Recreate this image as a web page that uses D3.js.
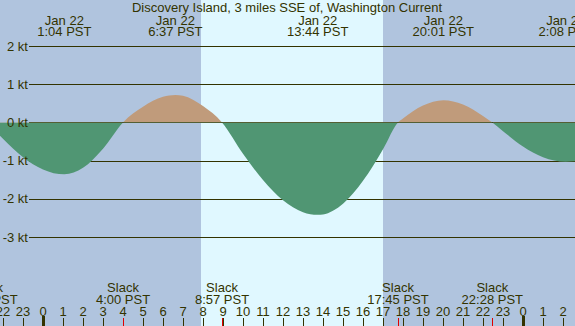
<!DOCTYPE html>
<html>
<head>
<meta charset="utf-8">
<script src="https://cdn.jsdelivr.net/npm/d3@7"></script>
<style>
  body { margin: 0; background: #fff; }
  svg { display: block; font-family: "Liberation Sans", Arial, sans-serif; }
</style>
</head>
<body>
<div class="displayArea"></div>
<script>
// current, hours from Jan 22 00:00 PST (events + hourly readings)
const curveHours = [-2.8, -2, -1, 0, 1.067, 2, 3, 4.0, 5, 6, 6.617, 7, 8, 8.95, 10, 11, 12, 13,
                    13.733, 14, 15, 16, 17, 17.75, 18, 19, 20.017, 21, 22, 22.467, 23, 24, 25, 26.133, 27];
const curveKnots = [0, -0.43, -0.91, -1.23, -1.36, -1.19, -0.69, 0, 0.41, 0.67, 0.72, 0.70, 0.43, 0, -0.82, -1.51, -2.04, -2.35,
                    -2.42, -2.41, -2.13, -1.53, -0.70, 0, 0.10, 0.44, 0.58, 0.47, 0.17, 0, -0.23, -0.63, -0.91, -1.03, -1.0];

// labelled maxima on top, slacks on bottom
const maxHours = [1.067, 6.617, 13.733, 20.017, 26.133];
const maxLabels = ["1:04 PST", "6:37 PST", "13:44 PST", "20:01 PST", "2:08 PST"];
const slackHours = [-2.8, 4.0, 8.95, 17.75, 22.467];
const slackLabels = ["21:12 PST", "4:00 PST", "8:57 PST", "17:45 PST", "22:28 PST"];

const sunrise = 7.9, sunset = 17.0;
const knotTicks = [-3, -2, -1, 0, 1, 2];
const hourTicks = d3.range(-2, 27);

const width = 575, height = 326;
const nightCol = "#b0c4de", dayCol = "#e0f8ff",
      ebbCol = "#509673", floodCol = "#c09b7b", ink = "#333300";
const fs = 13;

var xScale = d3.scaleLinear().domain([-2.15, 26.6]).range([0, width]),
    yScale = d3.scaleLinear().domain([-3, 2]).range([237, 46]);

var svg = d3.select(".displayArea").append("svg")
    .attr("width", width)
    .attr("height", height);

// night / day background
svg.append("rect").attr("width", width).attr("height", height).attr("fill", nightCol);
svg.append("rect")
    .attr("x", xScale(sunrise)).attr("y", 0)
    .attr("width", xScale(sunset) - xScale(sunrise)).attr("height", height)
    .attr("fill", dayCol);

// knot grid lines
svg.append("g").selectAll("line")
    .data(knotTicks).enter().append("line")
    .attr("x1", 29).attr("x2", width)
    .attr("y1", d => Math.round(yScale(d)) + 0.5)
    .attr("y2", d => Math.round(yScale(d)) + 0.5)
    .attr("stroke", ink).attr("stroke-width", 1.2);

// current curve split at zero
var y0 = yScale(0);
var defs = svg.append("defs");
defs.append("clipPath").attr("id", "above")
    .append("rect").attr("x", 0).attr("y", 0).attr("width", width).attr("height", y0);
defs.append("clipPath").attr("id", "below")
    .append("rect").attr("x", 0).attr("y", y0).attr("width", width).attr("height", height - y0);

var pts = curveHours.map((h, i) => [h, curveKnots[i]]);
var area = d3.area()
    .x(d => xScale(d[0]))
    .y0(y0)
    .y1(d => yScale(d[1]))
    .curve(d3.curveMonotoneX);

svg.append("path").datum(pts).attr("d", area)
    .attr("fill", floodCol).attr("clip-path", "url(#above)");
svg.append("path").datum(pts).attr("d", area)
    .attr("fill", ebbCol).attr("clip-path", "url(#below)");

// knot labels
svg.append("g").selectAll("text")
    .data(knotTicks).enter().append("text")
    .attr("x", 28).attr("y", d => yScale(d) + 4.5)
    .attr("text-anchor", "end")
    .attr("font-size", fs).attr("fill", ink)
    .text(d => d + " kt");

// title
svg.append("text")
    .attr("x", 287).attr("y", 12)
    .attr("text-anchor", "middle").attr("font-size", fs).attr("fill", ink)
    .text("Discovery Island, 3 miles SSE of, Washington Current");

// max labels on top
var maxG = svg.append("g").selectAll("g")
    .data(maxHours).enter().append("g")
    .attr("transform", d => `translate(${xScale(d)},0)`);
maxG.append("text").attr("y", 24.5).attr("text-anchor", "middle")
    .attr("font-size", fs).attr("fill", ink).text("Jan 22");
maxG.append("text").attr("y", 36).attr("text-anchor", "middle")
    .attr("font-size", fs).attr("fill", ink).text((d, i) => maxLabels[i]);

// slack labels on bottom
var slackG = svg.append("g").selectAll("g")
    .data(slackHours).enter().append("g")
    .attr("transform", d => `translate(${xScale(d)},0)`);
slackG.append("text").attr("y", 291.5).attr("text-anchor", "middle")
    .attr("font-size", fs).attr("fill", ink).text("Slack");
slackG.append("text").attr("y", 303.5).attr("text-anchor", "middle")
    .attr("font-size", fs).attr("fill", ink).text((d, i) => slackLabels[i]);

// hour axis
var hourOf = d => ((d % 24) + 24) % 24;
var xAxis = svg.append("g");
xAxis.selectAll("text")
    .data(hourTicks).enter().append("text")
    .attr("x", d => xScale(d)).attr("y", 315.5)
    .attr("text-anchor", "middle").attr("font-size", fs).attr("fill", ink)
    .text(d => hourOf(d));
xAxis.selectAll("line.hr")
    .data(hourTicks).enter().append("line")
    .attr("class", "hr")
    .attr("x1", d => Math.round(xScale(d)) + 0.5)
    .attr("x2", d => Math.round(xScale(d)) + 0.5)
    .attr("y1", d => hourOf(d) === 0 ? 316 : 318)
    .attr("y2", height)
    .attr("stroke", ink)
    .attr("stroke-width", d => hourOf(d) === 0 ? 3 : 1);
xAxis.selectAll("line.slack")
    .data(slackHours.filter(d => d > -2.15)).enter().append("line")
    .attr("class", "slack")
    .attr("x1", d => Math.round(xScale(d)) + 0.5)
    .attr("x2", d => Math.round(xScale(d)) + 0.5)
    .attr("y1", 318).attr("y2", height)
    .attr("stroke", "#e00000").attr("stroke-width", 1);
</script>
</body>
</html>
